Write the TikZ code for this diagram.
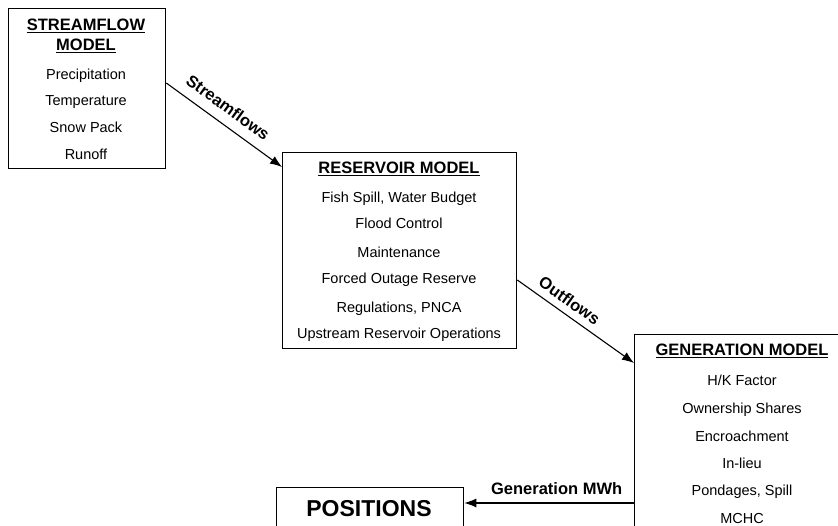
\documentclass[tikz,border=0pt]{standalone}
\usepackage{fontspec}
\setmainfont{Liberation Sans}
\usetikzlibrary{arrows.meta,calc}
\begin{document}
\begin{tikzpicture}[x=1pt,y=-1pt,
  box/.style={draw,line width=1.3pt,rectangle,anchor=north west,inner sep=0pt},
  ttl/.style={font=\fontsize{16.5}{18}\selectfont\bfseries,inner sep=0pt,anchor=base},
  body/.style={font=\fontsize{14.5}{16}\selectfont,inner sep=0pt,anchor=base},
  flow/.style={line width=1.1pt,-{Latex[length=12pt,width=9pt]}},
  lbl/.style={font=\fontsize{16.5}{18}\selectfont\bfseries,inner sep=0pt}]
\useasboundingbox (0,0) rectangle (838,526);
\clip (0,0) rectangle (838,526);

% boxes
\node[box,minimum width=157pt,minimum height=160pt] (sf) at (8,8) {};
\node[box,minimum width=234pt,minimum height=196pt] (res) at (282,152) {};
\node[box,minimum width=230pt,minimum height=220pt] (gen) at (634,334) {};
\node[box,minimum width=187pt,minimum height=60pt] (pos) at (276,487) {};

% streamflow model text
\node[ttl] (sft1) at (86,31) {\underline{STREAMFLOW}};
\node[ttl] (sft2) at (86,51) {\underline{MODEL}};
\node[body] (sf1) at (86,79.5) {Precipitation};
\node[body] (sf2) at (86,105.5) {Temperature};
\node[body] (sf3) at (86,132.5) {Snow Pack};
\node[body] (sf4) at (86,159.5) {Runoff};

% reservoir model text
\node[ttl] (rest) at (399,174) {\underline{RESERVOIR MODEL}};
\node[body] (r1) at (399,202.5) {Fish Spill, Water Budget};
\node[body] (r2) at (399,228.5) {Flood Control};
\node[body] (r3) at (399,257.5) {Maintenance};
\node[body] (r4) at (399,283.5) {Forced Outage Reserve};
\node[body] (r5) at (399,312.5) {Regulations, PNCA};
\node[body] (r6) at (399,338.5) {Upstream Reservoir Operations};

% generation model text
\node[ttl] (gent) at (742,356) {\underline{GENERATION MODEL}};
\node[body] (g1) at (742,385.5) {H/K Factor};
\node[body] (g2) at (742,413.5) {Ownership Shares};
\node[body] (g3) at (742,441.5) {Encroachment};
\node[body] (g4) at (742,468.5) {In-lieu};
\node[body] (g5) at (742,495.5) {Pondages, Spill};
\node[body] (g6) at (742,523.5) {MCHC};

% positions
\node[font=\fontsize{23}{26}\selectfont\bfseries,inner sep=0pt,anchor=base] (post) at (369,516) {POSITIONS};

% connectors
\coordinate (a1) at ($(sf.north east)+(0,75)$);
\coordinate (b1) at ($(res.north west)+(0,15)$);
\coordinate (a2) at ($(res.north east)+(0,128)$);
\coordinate (b2) at ($(gen.north west)+(0,29)$);
\coordinate (a3) at ($(gen.north west)+(0,169)$);
\coordinate (b3) at ($(pos.north east)+(0,16)$);

\draw[flow] (a1) -- node[lbl,sloped,pos=0.45,above=10pt] (l1) {Streamflows} (b1);
\draw[flow] (a2) -- node[lbl,sloped,pos=0.38,above=7pt] (l2) {Outflows} (b2);
\draw[flow] (a3) -- node[lbl,pos=0.456,above=8pt] (l3) {Generation MWh} (b3);
\end{tikzpicture}
\end{document}
